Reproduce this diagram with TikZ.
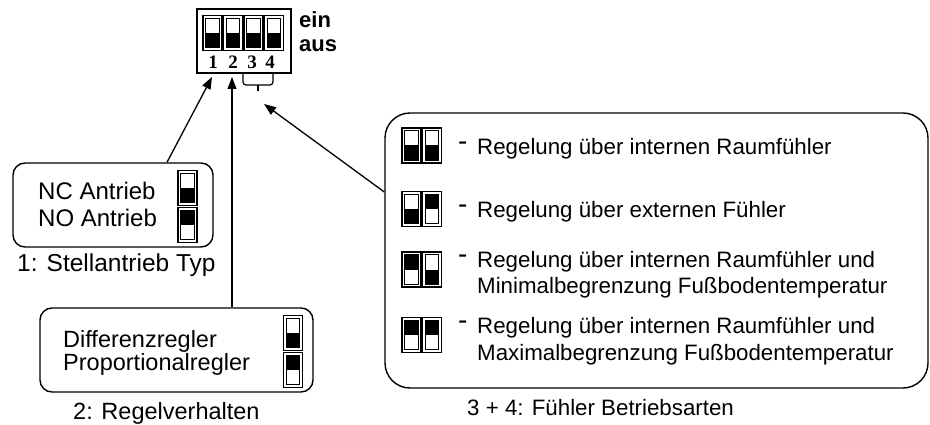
\documentclass[tikz,border=0pt]{standalone}
\usepackage{fontspec}
\setmainfont{Liberation Sans}
\newfontfamily\numfont{Liberation Serif}
\usetikzlibrary{arrows.meta}

\tikzset{
	pics/dipsw/.style={code={
		\draw [line width=1.6pt] (-9.5,-17.5) rectangle (9.5,17.5);
		\draw [line width=0.8pt] (-6.8,-14.8) rectangle (6.8,14.8);
		\fill (-6.8,#1) rectangle (6.8,#1+14.8);
	}}
}

\begin{document}
\begin{tikzpicture}[x=1pt, y=-1pt,
		box/.style={draw=black, line width=1.4pt, rounded corners=12pt, inner sep=0pt},
		arrow/.style={line width=1.3pt, -{Triangle[length=12pt,width=9pt]}},
		txt/.style={inner sep=0pt, anchor=base west, font=\fontsize{24}{28}\selectfont},
		mode/.style={inner sep=0pt, anchor=base west, font=\fontsize{22.3}{26}\selectfont}]

		\useasboundingbox (0,0) rectangle (930,425);

		\node [draw=black, line width=1.5pt, minimum width=94pt, minimum height=64pt] (dip) at (244,41) {};
		\foreach \x in {212.5, 233, 253.5, 274}
			\pic at (\x,33) {dipsw=0};
		\foreach \n/\x in {1/213, 2/233, 3/252, 4/270}
			\node [inner sep=0pt, font=\numfont\bfseries\fontsize{19}{19}\selectfont] (d\n) at (\x,62.5) {\n};
		\node [inner sep=0pt, anchor=base west, font=\bfseries\fontsize{22}{22}\selectfont] (ein) at (299,28) {ein};
		\node [inner sep=0pt, anchor=base west, font=\bfseries\fontsize{22}{22}\selectfont] (aus) at (299,52) {aus};
		\draw [line width=1.2pt, rounded corners=3pt] (243,74) -- (243,85) -- (273,85) -- (273,74);
		\draw [line width=1.2pt] (258,85) -- (258,91);

		\coordinate (pin1) at (212,77);
		\coordinate (pin2) at (232,77);
		\coordinate (pin34) at (264,104);

		\node [box, minimum width=200pt, minimum height=84pt] (nc) at (113,205) {};
		\node [txt] (ncA) at (38,200) {NC Antrieb};
		\node [txt] (noA) at (38,226) {NO Antrieb};
		\pic at (187.5,188) {dipsw=0};
		\pic at (187.5,225) {dipsw=-14.8};
		\node [txt, font=\fontsize{24.5}{28}\selectfont] (typ) at (17,271) {1: Stellantrieb Typ};

		\node [box, minimum width=273pt, minimum height=84pt] (ctrl) at (176.5,350) {};
		\node [txt, font=\fontsize{23.5}{28}\selectfont] (diff) at (63,347) {Differenzregler};
		\node [txt, font=\fontsize{23.5}{28}\selectfont] (prop) at (63,370) {Proportionalregler};
		\pic at (293,333) {dipsw=0};
		\pic at (293,370) {dipsw=-14.8};
		\node [txt, font=\fontsize{23.5}{28}\selectfont] (verh) at (73,419) {2: Regelverhalten};

		\node [box, rounded corners=25pt, minimum width=543pt, minimum height=275pt] (modes) at (656.5,250.5) {};
		\foreach \y/\a/\b in {145.5/0/0, 209/0/-14.8, 269.5/-14.8/0, 335/-14.8/-14.8} {
			\pic at (411.5,\y) {dipsw=\a};
			\pic at (432,\y) {dipsw=\b};
		}
		\foreach \n/\y in {1/151, 2/214, 3/263, 4/329}
			\node [mode, font=\fontsize{28}{28}\selectfont] (dash\n) at (458,\y) {-};
		\node [mode] (m1) at (477,155) {Regelung über internen Raumfühler};
		\node [mode] (m2) at (477,218) {Regelung über externen Fühler};
		\node [mode] (m3a) at (477,267) {Regelung über internen Raumfühler und};
		\node [mode] (m3b) at (477,293) {Minimalbegrenzung Fußbodentemperatur};
		\node [mode] (m4a) at (477,333) {Regelung über internen Raumfühler und};
		\node [mode] (m4b) at (477,360) {Maximalbegrenzung Fußbodentemperatur};
		\node [mode] (betr) at (467,415) {3 + 4: Fühler Betriebsarten};

		\draw [arrow] ([xshift=54pt]nc.north) -- (pin1);
		\draw [arrow] (ctrl.north -| pin2) -- (pin2);
		\draw [arrow] ([yshift=58.5pt]modes.west) -- (pin34);
	\end{tikzpicture}
\end{document}
